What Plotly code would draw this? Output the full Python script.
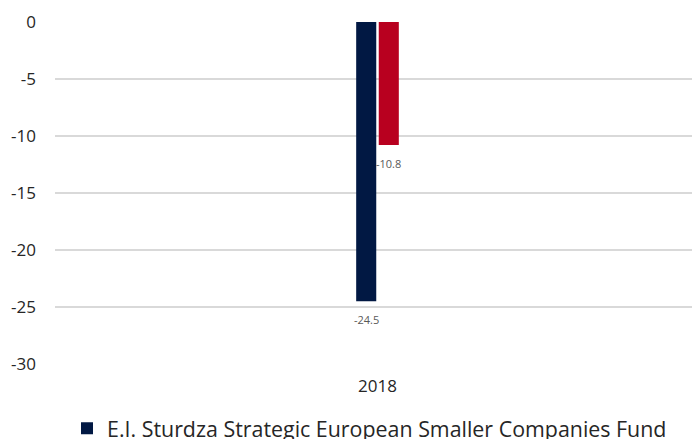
import plotly.graph_objects as go

categories = ["2018"]
fund_name = "E.I. Sturdza Strategic European Smaller Companies Fund"
bench_name = "Benchmark"
fund_values = [-24.5]
bench_values = [-10.8]
y_ticks = [0, -5, -10, -15, -20, -25, -30]
y_ticktext = ["0", "-5", "-10", "-15", "-20", "-25", "-30"]

FONT = "Open Sans"
BARGAP = 0.930
series = [
    (fund_name, fund_values, "#011843", True),
    (bench_name, bench_values, "#B8001F", False),
]

fig = go.Figure()
n = len(series)
slot = (1 - BARGAP) / n
for i, (name, vals, color, in_legend) in enumerate(series):
    fig.add_trace(go.Bar(
        x=categories, y=vals, name=name, showlegend=in_legend,
        marker=dict(color=color, line=dict(width=0)),
    ))
    offset = (i - (n - 1) / 2) * slot
    for ci, v in enumerate(vals):
        fig.add_annotation(
            x=ci + offset, y=v, xref="x", yref="y",
            text=str(v), showarrow=False, yanchor="top", yshift=-9,
            font=dict(size=11, color="#595959", family=FONT),
        )

fig.update_layout(
    width=692, height=431,
    margin=dict(l=47, r=0, t=14, b=75, autoexpand=False),
    paper_bgcolor="white", plot_bgcolor="white",
    barmode="group", bargap=BARGAP, bargroupgap=0.111,
    font=dict(family=FONT, color="#262626"),
    showlegend=True,
    legend=dict(orientation="h", x=0.4876, xanchor="center", y=-0.128, yanchor="top",
                font=dict(size=21.4, color="#262626"), traceorder="normal"),
    xaxis=dict(range=[-0.5, 0.5], showgrid=False, showline=False, ticks="",
               tickfont=dict(size=17), automargin=False, ticklabelstandoff=10),
    yaxis=dict(range=[-30, 0], tickvals=y_ticks, ticktext=y_ticktext,
               showgrid=True, gridcolor="#D9D9D9",
               gridwidth=1.5, zeroline=False, showline=False, ticks="",
               tickfont=dict(size=17), ticklabelstandoff=18, automargin=False),
)

fig.write_html("out.html")
